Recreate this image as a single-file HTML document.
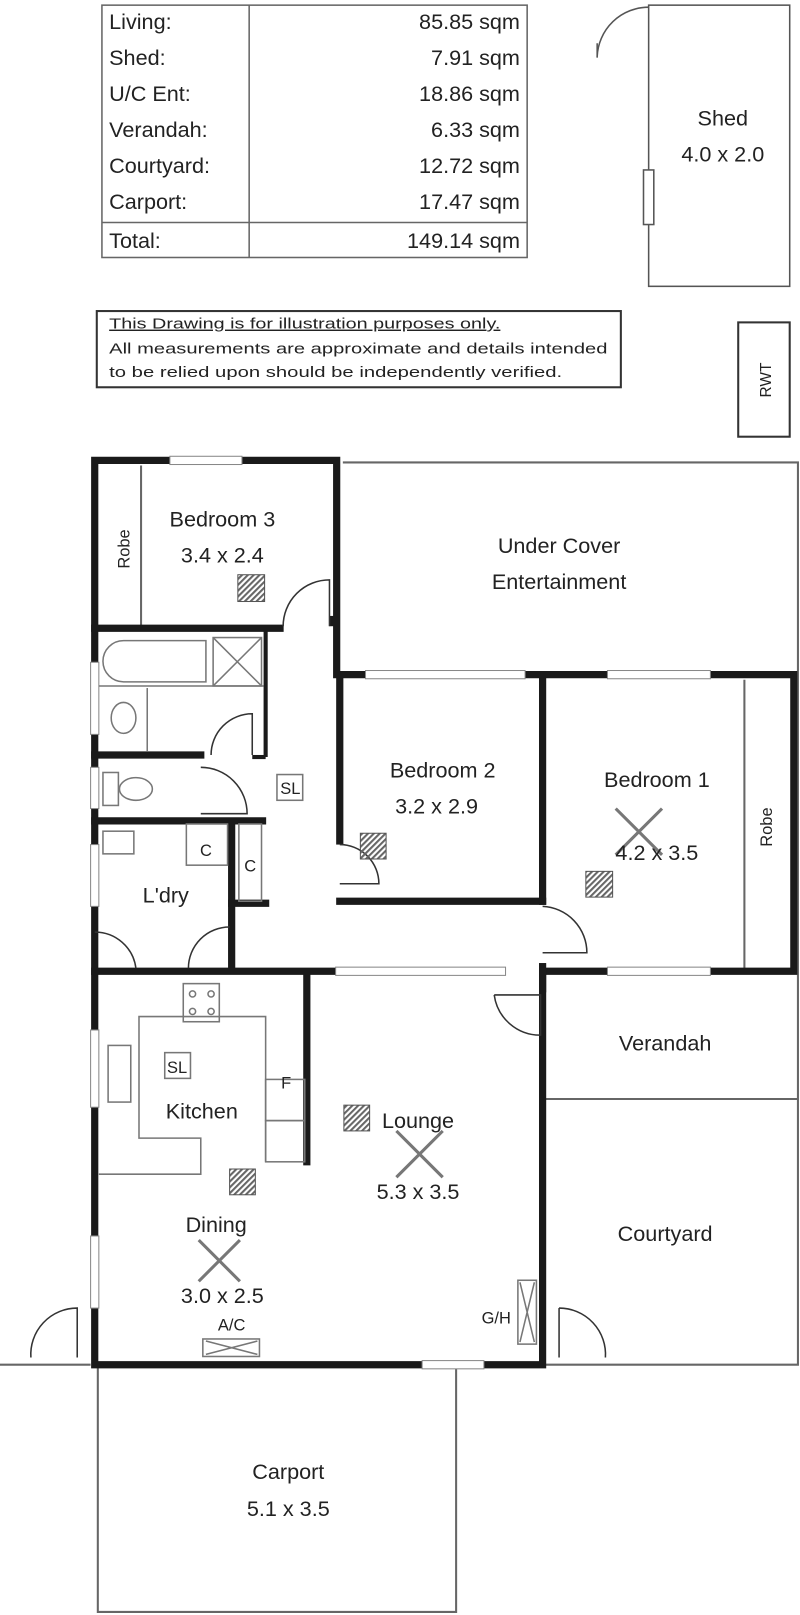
<!DOCTYPE html>
<html><head><meta charset="utf-8"><style>
html,body{margin:0;padding:0;background:#fff;width:800px;height:1615px;overflow:hidden}
svg{display:block}
text{font-family:"Liberation Sans",sans-serif;fill:#222}
</style></head><body>
<svg width="800" height="1615" viewBox="0 0 777 1568" preserveAspectRatio="none" xmlns="http://www.w3.org/2000/svg">
<defs>
<pattern id="h" width="4" height="4" patternUnits="userSpaceOnUse" patternTransform="rotate(45)"><rect width="2" height="4" fill="#666"/></pattern>
</defs>
<g stroke="#666" stroke-width="1.5" fill="none">
<rect x="99" y="5" width="413" height="245"/>
<line x1="242" y1="5" x2="242" y2="250"/>
<line x1="99" y1="216" x2="512" y2="216"/>
</g>
<g font-size="21">
<text x="106" y="28">Living:</text><text x="505" y="28" text-anchor="end">85.85 sqm</text>
<text x="106" y="63">Shed:</text><text x="505" y="63" text-anchor="end">7.91 sqm</text>
<text x="106" y="98">U/C Ent:</text><text x="505" y="98" text-anchor="end">18.86 sqm</text>
<text x="106" y="133">Verandah:</text><text x="505" y="133" text-anchor="end">6.33 sqm</text>
<text x="106" y="168">Courtyard:</text><text x="505" y="168" text-anchor="end">12.72 sqm</text>
<text x="106" y="203">Carport:</text><text x="505" y="203" text-anchor="end">17.47 sqm</text>
<text x="106" y="241">Total:</text><text x="505" y="241" text-anchor="end">149.14 sqm</text>
</g>
<g stroke="#555" stroke-width="1.5" fill="none">
<rect x="630" y="5" width="137" height="273"/>
<path d="M580 55 A50 50 0 0 1 630 7"/>
<line x1="580" y1="42" x2="580" y2="56"/>
<rect x="625" y="165" width="10" height="53" fill="#fff"/>
</g>
<text x="702" y="122" font-size="21" text-anchor="middle">Shed</text>
<text x="702" y="157" font-size="21" text-anchor="middle">4.0 x 2.0</text>
<rect x="94" y="302" width="509" height="74" fill="none" stroke="#333" stroke-width="2"/>
<g font-size="14">
<text x="106" y="319" text-decoration="underline" textLength="380" lengthAdjust="spacingAndGlyphs">This Drawing is for illustration purposes only.</text>
<text x="106" y="343" textLength="484" lengthAdjust="spacingAndGlyphs">All measurements are approximate and details intended</text>
<text x="106" y="366" textLength="440" lengthAdjust="spacingAndGlyphs">to be relied upon should be independently verified.</text>
</g>
<rect x="717" y="313" width="50" height="111" fill="none" stroke="#333" stroke-width="2"/>
<text transform="translate(749 369) rotate(-90)" font-size="15" text-anchor="middle">RWT</text>

<g stroke="#666" stroke-width="2" fill="none">
<polyline points="333,449 775,449 775,1325 530,1325"/>
<line x1="0" y1="1325" x2="88" y2="1325"/>
<line x1="530" y1="1067" x2="775" y2="1067"/>
<polyline points="95,1328 95,1565 443,1565 443,1328"/>
<line x1="723" y1="660" x2="723" y2="940"/>
<line x1="137" y1="452" x2="137" y2="607"/>
</g>
<g stroke="#1a1a1a" stroke-width="7" fill="none" stroke-linecap="square">
<polyline points="92,447 327,447 327,655 771,655 771,943 527,943 527,1325 92,1325 92,447"/>
<line x1="92" y1="610" x2="272" y2="610"/>
<line x1="527" y1="655" x2="527" y2="875"/>
<line x1="330" y1="875" x2="527" y2="875"/>
<line x1="330" y1="655" x2="330" y2="820"/>
<line x1="527" y1="935" x2="527" y2="943"/>
<line x1="92" y1="943" x2="325" y2="943"/>
<line x1="92" y1="733" x2="195" y2="733"/>
<line x1="92" y1="797" x2="255" y2="797"/>
<line x1="225" y1="800" x2="225" y2="940"/>
<line x1="225" y1="877" x2="258" y2="877"/>
<line x1="298" y1="945" x2="298" y2="1128"/>
<line x1="527" y1="945" x2="527" y2="960"/>
</g>
<g stroke="#1a1a1a" stroke-width="4" fill="none">
<line x1="258" y1="612" x2="258" y2="735"/>
<line x1="245" y1="735" x2="258" y2="735"/>
<line x1="322" y1="598" x2="322" y2="608"/>
</g>
<g fill="#fff" stroke="#888" stroke-width="1">
<rect x="165" y="443" width="70" height="8"/>
<rect x="355" y="651" width="155" height="8"/>
<rect x="590" y="651" width="100" height="8"/>
<rect x="590" y="939" width="100" height="8"/>
<rect x="88" y="643" width="8" height="70"/>
<rect x="88" y="745" width="8" height="40"/>
<rect x="88" y="820" width="8" height="60"/>
<rect x="88" y="1000" width="8" height="75"/>
<rect x="88" y="1200" width="8" height="70"/>
<rect x="410" y="1321" width="60" height="8"/>
<rect x="326" y="939" width="165" height="8"/>
<rect x="523" y="880" width="8" height="55" stroke="none"/>
<rect x="326" y="820" width="8" height="35" stroke="none"/>
</g>
<g stroke="#333" stroke-width="1.5" fill="none">
<path d="M275 608 A45 45 0 0 1 320 563 L320 608"/>
<path d="M205 733 A40 40 0 0 1 245 693 L245 733"/>
<path d="M195 745 A45 45 0 0 1 240 790 L195 790"/>
<path d="M92 905 A40 40 0 0 1 132 940"/>
<path d="M183 940 A40 40 0 0 1 223 900"/>
<path d="M330 820 A38 38 0 0 1 368 858 L330 858"/>
<path d="M527 880 A45 45 0 0 1 570 925 L527 925"/>
<path d="M480 966 A45 45 0 0 0 525 1005 L525 966 L480 966"/>
<path d="M30 1318 A45 45 0 0 1 75 1270 L75 1318"/>
<path d="M543 1270 A45 45 0 0 1 588 1318"/>
<line x1="543" y1="1270" x2="543" y2="1318"/>
</g>
<g stroke="#777" stroke-width="1.5" fill="none">
<path d="M120 622 L200 622 L200 662 L120 662 A20 20 0 0 1 120 622 Z"/>
<rect x="207" y="619" width="47" height="47"/>
<path d="M207 619 L254 666 M254 619 L207 666"/>
<line x1="96" y1="666" x2="256" y2="666"/>
<line x1="143" y1="668" x2="143" y2="730"/>
<ellipse cx="120" cy="697" rx="12" ry="15"/>
<rect x="100" y="750" width="15" height="32"/>
<ellipse cx="132" cy="766" rx="16" ry="11"/>
<rect x="100" y="807" width="30" height="22"/>
<rect x="181" y="800" width="40" height="40"/>
<rect x="232" y="800" width="22" height="75"/>
<rect x="178" y="955" width="35" height="37"/>
<circle cx="187" cy="965" r="3"/><circle cx="205" cy="965" r="3"/><circle cx="187" cy="982" r="3"/><circle cx="205" cy="982" r="3"/>
<polyline points="258,1128 258,987 135,987 135,1105 195,1105 195,1140 96,1140"/>
<rect x="258" y="1048" width="38" height="40"/>
<rect x="258" y="1088" width="38" height="40"/>
<rect x="105" y="1015" width="22" height="55"/>
<rect x="160" y="1022" width="25" height="25"/>
<rect x="269" y="752" width="25" height="25"/>
<rect x="197" y="1300" width="55" height="17"/>
<path d="M200 1302 L250 1315 M250 1302 L200 1315"/>
<rect x="503" y="1243" width="18" height="62"/>
<path d="M505 1245 L519 1303 M519 1245 L505 1303"/>
<path d="M598 785 L643 830 M643 785 L598 830" stroke-width="3"/>
<path d="M385 1098 L430 1143 M430 1098 L385 1143" stroke-width="3"/>
<path d="M193 1204 L233 1244 M233 1204 L193 1244" stroke-width="3"/>
</g>
<g fill="url(#h)" stroke="#555" stroke-width="1">
<rect x="231" y="558" width="26" height="26"/>
<rect x="350" y="809" width="25" height="25"/>
<rect x="569" y="846" width="26" height="25"/>
<rect x="334" y="1073" width="25" height="25"/>
<rect x="223" y="1135" width="25" height="25"/>
</g>
<g font-size="21" text-anchor="middle">
<text x="216" y="511">Bedroom 3</text>
<text x="216" y="546">3.4 x 2.4</text>
<text x="543" y="537">Under Cover</text>
<text x="543" y="572">Entertainment</text>
<text x="430" y="755">Bedroom 2</text>
<text x="424" y="790">3.2 x 2.9</text>
<text x="638" y="764">Bedroom 1</text>
<text x="638" y="835">4.2 x 3.5</text>
<text x="161" y="876">L'dry</text>
<text x="196" y="1086">Kitchen</text>
<text x="406" y="1095">Lounge</text>
<text x="406" y="1164">5.3 x 3.5</text>
<text x="210" y="1196">Dining</text>
<text x="216" y="1265">3.0 x 2.5</text>
<text x="646" y="1020">Verandah</text>
<text x="646" y="1205">Courtyard</text>
<text x="280" y="1436">Carport</text>
<text x="280" y="1472">5.1 x 3.5</text>
</g>
<g font-size="16" text-anchor="middle">
<text x="200" y="831">C</text>
<text x="243" y="846">C</text>
<text x="278" y="1057">F</text>
<text x="282" y="771">SL</text>
<text x="172" y="1042">SL</text>
<text x="225" y="1292">A/C</text>
<text x="482" y="1285">G/H</text>
</g>
<text transform="translate(126 533) rotate(-90)" font-size="16" text-anchor="middle">Robe</text>
<text transform="translate(750 803) rotate(-90)" font-size="16" text-anchor="middle">Robe</text>
</svg>
</body></html>
